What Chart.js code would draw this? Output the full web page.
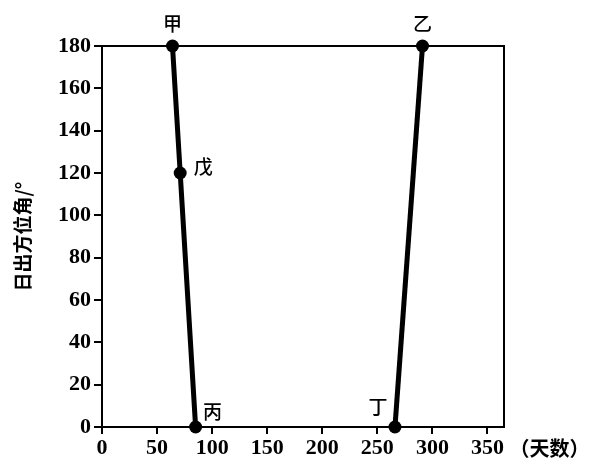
<!DOCTYPE html>
<html>
<head>
<meta charset="utf-8">
<script src="https://cdn.jsdelivr.net/npm/chart.js@4.4.0/dist/chart.umd.min.js"></script>
<style>
  html, body { margin: 0; padding: 0; background: #fff; }
  #wrap { width: 594px; height: 468px; }
</style>
</head>
<body>
<div id="wrap"><canvas id="c" width="594" height="468"></canvas></div>
<script>
// ---- data ----
const leftNames  = ['甲', '戊', '丙'];
const leftDays   = [64, 71, 85];
const leftAngles = [180, 120, 0];

const rightNames  = ['乙', '丁'];
const rightDays   = [291, 266];
const rightAngles = [180, 0];

const xTickValues = [0, 50, 100, 150, 200, 250, 300, 350];
const yTickValues = [0, 20, 40, 60, 80, 100, 120, 140, 160, 180];
const yTitle = '日出方位角/°';
const xTitle = '（天数）';

const toPts = (xs, ys) => xs.map((x, i) => ({ x: x, y: ys[i] }));

// label offsets (styling only)
const labelOffset = {
  '甲': [0, -22], '乙': [0, -22], '戊': [23, -6], '丙': [17, -15], '丁': [-17, -20]
};

const framePlugin = {
  id: 'frame',
  beforeDatasetsDraw(chart) {
    const { ctx, chartArea: a } = chart;
    ctx.save();
    ctx.strokeStyle = '#000';
    ctx.lineWidth = 2;
    ctx.beginPath();
    ctx.moveTo(a.left, a.top);
    ctx.lineTo(a.right, a.top);
    ctx.lineTo(a.right, a.bottom);
    ctx.stroke();
    ctx.restore();
  },
  afterDatasetsDraw(chart) {
    const { ctx, chartArea: a, scales } = chart;
    ctx.save();
    ctx.fillStyle = '#000';
    ctx.font = '500 19px "Noto Sans CJK SC"';
    ctx.textAlign = 'center';
    ctx.textBaseline = 'middle';
    chart.data.datasets.forEach((ds, di) => {
      const meta = chart.getDatasetMeta(di);
      meta.data.forEach((el, i) => {
        const name = ds.names[i];
        const off = labelOffset[name] || [0, -20];
        ctx.fillText(name, el.x + off[0], el.y + off[1]);
      });
    });
    ctx.font = 'bold 20px "Noto Sans CJK SC"';
    ctx.textAlign = 'left';
    const xs = scales.x;
    ctx.fillText(xTitle, xs.getPixelForValue(350) + 22, a.bottom + 21);
    ctx.restore();
  }
};

new Chart(document.getElementById('c'), {
  type: 'scatter',
  data: {
    datasets: [
      {
        data: toPts(leftDays, leftAngles), names: leftNames,
        showLine: true, borderColor: '#000', backgroundColor: '#000',
        borderWidth: 5, pointRadius: 6.5, pointBorderWidth: 0, clip: false
      },
      {
        data: toPts(rightDays, rightAngles), names: rightNames,
        showLine: true, borderColor: '#000', backgroundColor: '#000',
        borderWidth: 5, pointRadius: 6.5, pointBorderWidth: 0, clip: false
      }
    ]
  },
  options: {
    responsive: false,
    animation: false,
    devicePixelRatio: 1,
    layout: { padding: { left: 0, top: 46, right: 90, bottom: 0 } },
    plugins: { legend: { display: false }, tooltip: { enabled: false } },
    scales: {
      x: {
        type: 'linear', min: 0, max: 365,
        afterFit: s => { s.height = 41; },
        afterBuildTicks: s => { s.ticks = xTickValues.map(v => ({ value: v })); },
        ticks: { color: '#000', font: { family: '"Liberation Serif"', size: 22, weight: 'bold' }, padding: 1, maxRotation: 0 },
        grid: { drawOnChartArea: false, drawTicks: true, tickLength: 7, color: '#000', lineWidth: 2 },
        border: { display: true, color: '#000', width: 2 }
      },
      y: {
        type: 'linear', min: 0, max: 180,
        afterFit: s => { s.width = 102; },
        afterBuildTicks: s => { s.ticks = yTickValues.map(v => ({ value: v })); },
        ticks: { color: '#000', font: { family: '"Liberation Serif"', size: 22, weight: 'bold' }, padding: 3 },
        grid: { drawOnChartArea: false, drawTicks: true, tickLength: 8, color: '#000', lineWidth: 2 },
        border: { display: true, color: '#000', width: 2 },
        title: { display: true, text: yTitle, color: '#000',
                 font: { family: '"Noto Sans CJK SC"', size: 19, weight: 'bold' },
                 padding: { top: 11, bottom: 0 } }
      }
    }
  },
  plugins: [framePlugin]
});
</script>
</body>
</html>
